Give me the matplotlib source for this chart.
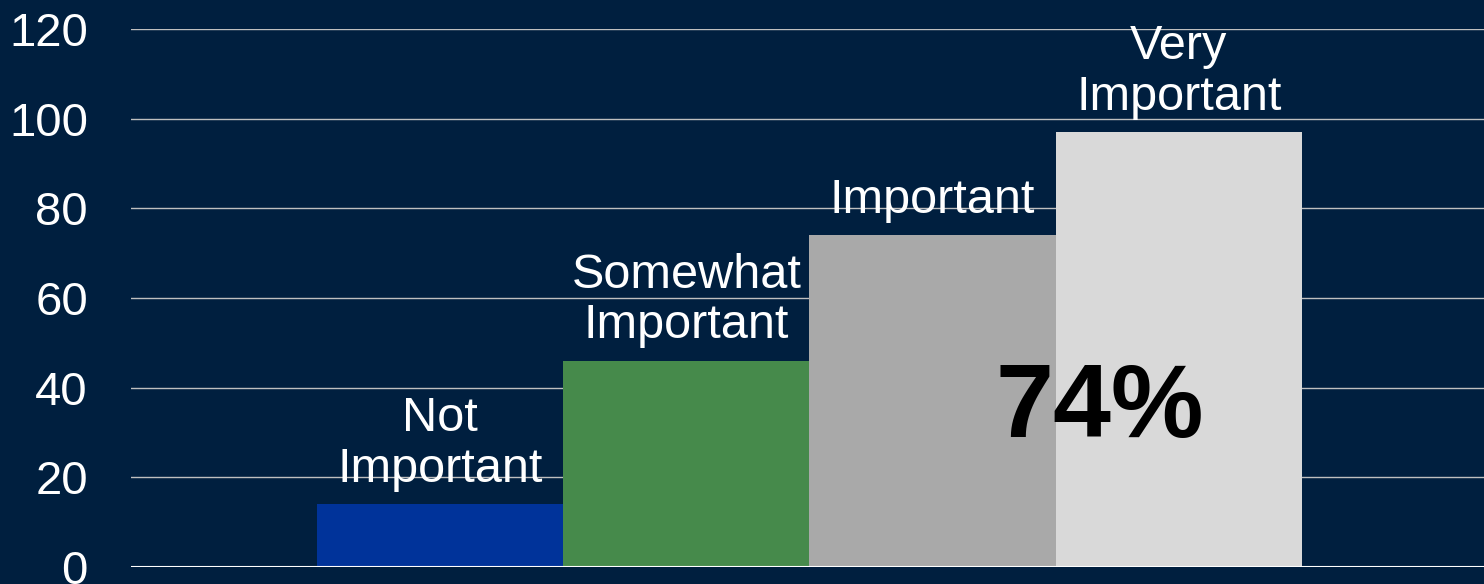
import numpy as np
import matplotlib.pyplot as plt

categories = ['Not\nImportant', 'Somewhat\nImportant', 'Important', 'Very\nImportant']
values = [14, 46, 74, 97]
colors = ['#00339A', '#468A4B', '#A9A9A9', '#D9D9D9']
callout = '74%'
yticks = [0, 20, 40, 60, 80, 100, 120]

bg = '#001F3F'
plt.rcParams['font.family'] = ['Liberation Sans', 'DejaVu Sans']

fig = plt.figure(figsize=(14.84, 5.84), dpi=100, facecolor=bg)
ax = fig.add_axes([0.0883, 0.0291, 0.9117, 0.9212])
ax.set_facecolor(bg)

x = np.arange(len(values))
ax.bar(x, values, width=1.0, color=colors, zorder=3)

for xi, v, lab in zip(x, values, categories):
    ax.annotate(lab, (xi, v), xytext=(0, 9), textcoords='offset points',
                ha='center', va='bottom', color='white', fontsize=35,
                linespacing=1.15, zorder=4)

ax.text(2.68, 35, callout, ha='center', va='center', fontsize=75,
        fontweight='bold', color='black', zorder=5)

ax.set_xlim(-1.256, 4.24)
ax.set_ylim(0, 120)
ax.set_yticks(yticks)
ax.set_xticks([])
ax.tick_params(axis='y', length=0, pad=31, labelsize=34, labelcolor='white')
ax.grid(axis='y', color='#BFBFBF', linewidth=1.0, zorder=0)
ax.axhline(0, color='white', linewidth=1.5, zorder=4)
for s in ax.spines.values():
    s.set_visible(False)

fig.savefig('out.png', facecolor=bg)
